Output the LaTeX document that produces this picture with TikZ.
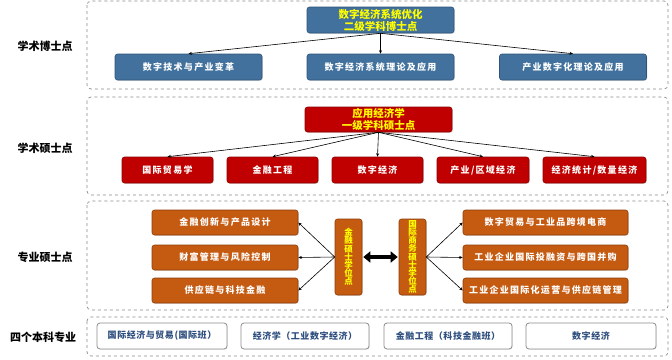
\documentclass[tikz,border=0pt]{standalone}
\usepackage{fontspec}
\setmainfont{Noto Sans CJK SC}
\newfontfamily\boxfont[LetterSpace=14]{Noto Sans CJK SC}
\newfontfamily\ugfont[LetterSpace=6]{Noto Sans CJK SC}
\usetikzlibrary{arrows.meta,shadows}
\newcommand\myvsetup{\lineskiplimit=-6pt\relax\lineskip=0pt\relax}
\definecolor{bluefill}{HTML}{41719C}
\definecolor{blueline}{HTML}{2E5478}
\definecolor{redfill}{HTML}{C00000}
\definecolor{redline}{HTML}{8B0000}
\definecolor{orfill}{HTML}{C55A11}
\definecolor{orline}{HTML}{8E3F0A}
\definecolor{ytext}{HTML}{FFFF00}
\definecolor{ugtext}{HTML}{2F4F7F}
\definecolor{panelline}{HTML}{8C8C8C}
\tikzset{
  panel/.style={draw=panelline, dashed, line width=0.7pt, rounded corners=4pt},
  basebox/.style={rectangle, rounded corners=2.5pt, line width=0.6pt, inner sep=0pt,
    align=center, drop shadow={shadow xshift=0.8pt, shadow yshift=-0.8pt, opacity=0.25}},
  bluebox/.style={basebox, fill=bluefill, draw=blueline, text=white,
    font=\boxfont\bfseries\fontsize{9}{11}\selectfont},
  redbox/.style={basebox, fill=redfill, draw=redline, text=white,
    font=\boxfont\bfseries\fontsize{9}{11}\selectfont},
  orbox/.style={basebox, fill=orfill, draw=orline, text=white,
    font=\boxfont\bfseries\fontsize{9}{11}\selectfont},
  headbox/.style={text=ytext, font=\bfseries\fontsize{10.5}{12}\selectfont},
  vbox/.style={basebox, fill=orfill, draw=orline, text=ytext,
    font=\bfseries\fontsize{8.5}{8.2}\selectfont\myvsetup},
  ugbox/.style={rectangle, rounded corners=3pt, draw=panelline, line width=0.8pt, fill=white,
    text=ugtext, font=\ugfont\bfseries\fontsize{9}{11}\selectfont, inner sep=0pt,
    drop shadow={shadow xshift=0.6pt, shadow yshift=-0.6pt, opacity=0.2}},
  lvl/.style={font=\bfseries\fontsize{11}{13}\selectfont, text=black},
  conn/.style={-{Stealth[length=3.5pt,width=3pt]}, line width=0.6pt, black},
}
\begin{document}
\begin{tikzpicture}[x=1pt,y=-1pt]
\useasboundingbox (0,0) rectangle (672,359);
\fill[white] (0,0) rectangle (672,359);

% panels
\draw[panel] (87,1) rectangle (668,89);
\draw[panel] (87,97) rectangle (668,195);
\draw[panel] (87,201) rectangle (668,310);
\draw[panel] (87,317) rectangle (668,356);

% level labels
\node[lvl] (l1) at (45,46) {学术博士点};
\node[lvl] (l2) at (45,148) {学术硕士点};
\node[lvl] (l3) at (45,257) {专业硕士点};
\node[lvl] (l4) at (43,337) {四个本科专业};

% panel 1
\node[bluebox, headbox, minimum width=147pt, minimum height=26pt] (d0) at (380.5,20) {数字经济系统优化\\二级学科博士点};
\node[bluebox, minimum width=147pt, minimum height=26pt] (d1) at (188.5,67) {数字技术与产业变革};
\node[bluebox, minimum width=147pt, minimum height=26pt] (d2) at (380.5,67) {数字经济系统理论及应用};
\node[bluebox, minimum width=147pt, minimum height=26pt] (d3) at (573,67) {产业数字化理论及应用};
\draw[conn] (d0.south) -- (d1.north);
\draw[conn] (d0.south) -- (d2.north);
\draw[conn] (d0.south) -- (d3.north);

% panel 2
\node[redbox, headbox, minimum width=147pt, minimum height=25pt] (m0) at (378.5,119.5) {应用经济学\\一级学科硕士点};
\node[redbox, minimum width=91pt, minimum height=26pt] (m1) at (167.5,170) {国际贸易学};
\node[redbox, minimum width=91pt, minimum height=26pt] (m2) at (272.5,170) {金融工程};
\node[redbox, minimum width=91pt, minimum height=26pt] (m3) at (377.5,170) {数字经济};
\node[redbox, minimum width=92pt, minimum height=26pt] (m4) at (483,170) {产业/区域经济};
\node[redbox, minimum width=103pt, minimum height=26pt] (m5) at (594.5,170) {经济统计/数量经济};
\foreach \i in {1,...,5} \draw[conn] (m0.south) -- (m\i.north);

% panel 3
\node[orbox, minimum width=146pt, minimum height=25pt] (a1) at (225,222.5) {金融创新与产品设计};
\node[orbox, minimum width=146pt, minimum height=25pt] (a2) at (225,257.5) {财富管理与风险控制};
\node[orbox, minimum width=146pt, minimum height=25pt] (a3) at (225,290.5) {供应链与科技金融};
\node[vbox, minimum width=27pt, minimum height=76pt] (v1) at (348.5,257) {金\\融\\硕\\士\\学\\位\\点};
\node[vbox, minimum width=27pt, minimum height=76pt] (v2) at (412.5,257) {国\\际\\商\\务\\硕\\士\\学\\位\\点};
\node[orbox, minimum width=165pt, minimum height=25pt] (b1) at (545.5,222.5) {数字贸易与工业品跨境电商};
\node[orbox, minimum width=165pt, minimum height=25pt] (b2) at (545.5,257.5) {工业企业国际投融资与跨国并购};
\node[orbox, minimum width=165pt, minimum height=25pt] (b3) at (545.5,290.5) {工业企业国际化运营与供应链管理};
\foreach \i in {1,2,3} {
  \draw[conn] (v1.west) -- (a\i.east);
  \draw[conn] (v2.east) -- (b\i.west);
}
\draw[line width=4pt, {Triangle[length=7pt,width=11pt]}-{Triangle[length=7pt,width=11pt]}, shorten <=1pt, shorten >=1pt] (v1.east) -- (v2.west);

% panel 4
\node[ugbox, minimum width=130pt, minimum height=26pt] (u1) at (162,336) {国际经济与贸易(国际班）};
\node[ugbox, minimum width=128pt, minimum height=26pt] (u2) at (305,336) {经济学（工业数字经济）};
\node[ugbox, minimum width=128pt, minimum height=26pt] (u3) at (448,336) {金融工程（科技金融班）};
\node[ugbox, minimum width=130pt, minimum height=26pt] (u4) at (591,336) {数字经济};
\end{tikzpicture}
\end{document}
